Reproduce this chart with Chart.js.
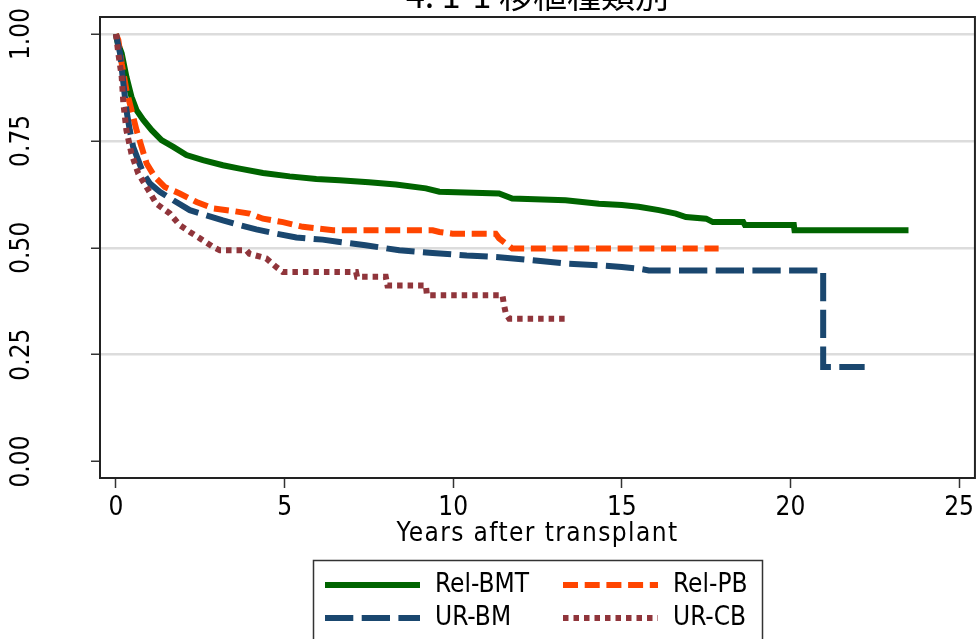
<!DOCTYPE html>
<html>
<head>
<meta charset="utf-8">
<script src="https://cdn.jsdelivr.net/npm/chart.js@4"></script>
<style>
  body { margin: 0; background: #fff; }
  #wrap { width: 979px; height: 639px; position: relative; }
</style>
</head>
<body>
<div id="wrap"><canvas id="km"></canvas></div>
<script>
const titleText = '4. 1-1 移植種類別';
const xTitle = 'Years after transplant';
const seriesNames = ['Rel-BMT', 'Rel-PB', 'UR-BM', 'UR-CB'];
const xTicks = [0, 5, 10, 15, 20, 25];
const yTicks = [0, 0.25, 0.5, 0.75, 1];

// survival curves (years, survival)
const relBmtYears = [0, 0.05, 0.17, 0.31, 0.46, 0.61, 0.81, 1.06, 1.35, 1.7, 2.09, 2.58, 3.17, 3.67, 4.36, 5.15, 5.94, 6.63, 7.5, 8.3, 9.19, 9.59, 11.36, 11.75, 13.33, 14.32, 15.0, 15.5, 16.1, 16.6, 16.9, 17.5, 17.7, 18.6, 18.65, 20.1, 20.12, 23.5];
const relBmtSurv  = [1, 0.98, 0.955, 0.9, 0.853, 0.822, 0.799, 0.775, 0.752, 0.736, 0.717, 0.705, 0.693, 0.685, 0.675, 0.667, 0.661, 0.658, 0.653, 0.648, 0.639, 0.631, 0.627, 0.615, 0.611, 0.603, 0.6, 0.596, 0.588, 0.58, 0.572, 0.568, 0.56, 0.56, 0.553, 0.553, 0.541, 0.541];

const relPbYears = [0, 0.07, 0.17, 0.31, 0.46, 0.61, 0.76, 0.91, 1.15, 1.45, 1.89, 2.39, 2.88, 3.47, 3.96, 4.36, 4.95, 5.54, 6.0, 6.44, 9.39, 9.59, 9.98, 11.26, 11.36, 11.56, 11.75, 17.87];
const relPbSurv  = [1, 0.986, 0.931, 0.869, 0.822, 0.775, 0.736, 0.697, 0.666, 0.642, 0.627, 0.607, 0.592, 0.586, 0.58, 0.568, 0.56, 0.549, 0.545, 0.541, 0.541, 0.537, 0.533, 0.533, 0.522, 0.51, 0.498, 0.498];

const urBmYears = [0, 0.12, 0.22, 0.31, 0.41, 0.51, 0.66, 0.81, 1.01, 1.3, 1.7, 2.19, 2.68, 3.17, 3.67, 4.16, 4.75, 5.35, 6.13, 6.58, 7.4, 8.4, 9.39, 10.4, 11.36, 12.35, 13.33, 14.32, 15.0, 15.5, 15.8, 20.97, 20.97, 22.2];
const urBmSurv  = [1, 0.955, 0.885, 0.822, 0.775, 0.736, 0.705, 0.674, 0.65, 0.631, 0.611, 0.588, 0.576, 0.564, 0.553, 0.543, 0.533, 0.524, 0.519, 0.514, 0.506, 0.494, 0.488, 0.482, 0.478, 0.471, 0.463, 0.459, 0.455, 0.451, 0.447, 0.447, 0.221, 0.221];

const urCbYears = [0, 0.07, 0.17, 0.22, 0.31, 0.46, 0.66, 0.96, 1.2, 1.6, 1.89, 2.19, 2.49, 2.88, 3.08, 3.87, 3.96, 4.46, 4.75, 4.95, 7.12, 7.15, 8.0, 8.05, 9.19, 9.22, 11.46, 11.5, 11.56, 11.66, 13.33];
const urCbSurv  = [1, 0.955, 0.9, 0.838, 0.775, 0.72, 0.674, 0.635, 0.603, 0.58, 0.553, 0.537, 0.522, 0.502, 0.494, 0.494, 0.486, 0.475, 0.455, 0.443, 0.443, 0.432, 0.432, 0.412, 0.412, 0.389, 0.389, 0.369, 0.346, 0.334, 0.334];

const latinFont = '"Liberation Sans Narrow", "DejaVu Sans Condensed", "Liberation Sans", sans-serif';
const cjkFont = '"Noto Sans CJK JP", "Noto Sans", sans-serif';

function pts(xs, ys) {
  return xs.map((x, i) => ({ x: x, y: ys[i] }));
}

const colors = ['#006400', '#ff4500', '#1a476f', '#90353b'];
const dashes = [[], [15, 6.7], [28.3, 8.4], [5.5, 5]];
const curves = [
  pts(relBmtYears, relBmtSurv),
  pts(relPbYears, relPbSurv),
  pts(urBmYears, urBmSurv),
  pts(urCbYears, urCbSurv)
];

const frameAndText = {
  id: 'frameAndText',
  afterDraw(chart) {
    const ctx = chart.ctx;
    const a = chart.chartArea;
    const ys = chart.scales.y;
    ctx.save();

    // plot frame
    ctx.strokeStyle = '#222';
    ctx.lineWidth = 2;
    ctx.setLineDash([]);
    ctx.strokeRect(a.left, a.top, a.right - a.left, a.bottom - a.top);

    // rotated y labels
    ctx.fillStyle = '#000';
    ctx.font = '26px ' + latinFont;
    ctx.textAlign = 'center';
    ctx.textBaseline = 'middle';
    yTicks.forEach(v => {
      const py = ys.getPixelForValue(v);
      ctx.save();
      ctx.translate(22, py);
      ctx.rotate(-Math.PI / 2);
      ctx.fillText(v.toFixed(2), 0, 0);
      ctx.restore();
    });

    // x axis title, a bit spaced like the fixed-width original
    ctx.save();
    ctx.letterSpacing = '1.4px';
    ctx.fillText(xTitle, (a.left + a.right) / 2, 534);
    ctx.restore();

    // title (cut off at the top in the original)
    ctx.font = '34px ' + cjkFont;
    ctx.textBaseline = 'alphabetic';
    ctx.fillText(titleText, (a.left + a.right) / 2, 8);

    // legend box
    ctx.strokeStyle = '#333';
    ctx.lineWidth = 1.5;
    ctx.strokeRect(313.5, 560.5, 449, 100);
    ctx.font = '26px ' + latinFont;
    ctx.textAlign = 'left';
    ctx.textBaseline = 'middle';
    chart.data.datasets.forEach((ds, i) => {
      const x0 = i % 2 ? 563 : 325;
      const y0 = i < 2 ? 585 : 618;
      ctx.strokeStyle = ds.borderColor;
      ctx.lineWidth = ds.borderWidth;
      ctx.setLineDash(ds.borderDash);
      ctx.beginPath();
      ctx.moveTo(x0, y0);
      ctx.lineTo(x0 + 95, y0);
      ctx.stroke();
      ctx.setLineDash([]);
      ctx.fillStyle = '#000';
      ctx.fillText(ds.label, x0 + 110, y0);
    });
    ctx.restore();
  }
};

new Chart(document.getElementById('km'), {
  type: 'line',
  data: {
    datasets: seriesNames.map((name, i) => ({
      label: name,
      data: curves[i],
      borderColor: colors[i],
      borderWidth: 6,
      borderDash: dashes[i],
      pointRadius: 0,
      fill: false,
      tension: 0,
      order: 4 - i
    }))
  },
  options: {
    responsive: true,
    maintainAspectRatio: false,
    animation: false,
    layout: { padding: { top: 17, right: 2, bottom: 91, left: 0 } },
    plugins: {
      legend: { display: false },
      tooltip: { enabled: false }
    },
    scales: {
      x: {
        type: 'linear',
        min: -0.473,
        max: 25.47,
        afterFit: s => { s.height = 70; },
        afterBuildTicks: s => { s.ticks = xTicks.map(v => ({ value: v })); },
        border: { display: false },
        grid: { drawOnChartArea: false, tickLength: 10, tickColor: '#333', tickWidth: 1.5 },
        ticks: { color: '#000', padding: 5, font: { family: latinFont, size: 26 } },
        title: { display: false }
      },
      y: {
        type: 'linear',
        min: -0.0386,
        max: 1.0398,
        afterFit: s => { s.width = 100; },
        afterBuildTicks: s => { s.ticks = yTicks.map(v => ({ value: v })); },
        border: { display: false },
        grid: {
          color: ctx => ctx.tick && ctx.tick.value === 0 ? 'rgba(0,0,0,0)' : '#dcdcdc',
          lineWidth: 2.5,
          tickLength: 9,
          tickColor: '#333',
          tickWidth: 1.5
        },
        ticks: { display: false }
      }
    }
  },
  plugins: [frameAndText]
});
</script>
</body>
</html>
